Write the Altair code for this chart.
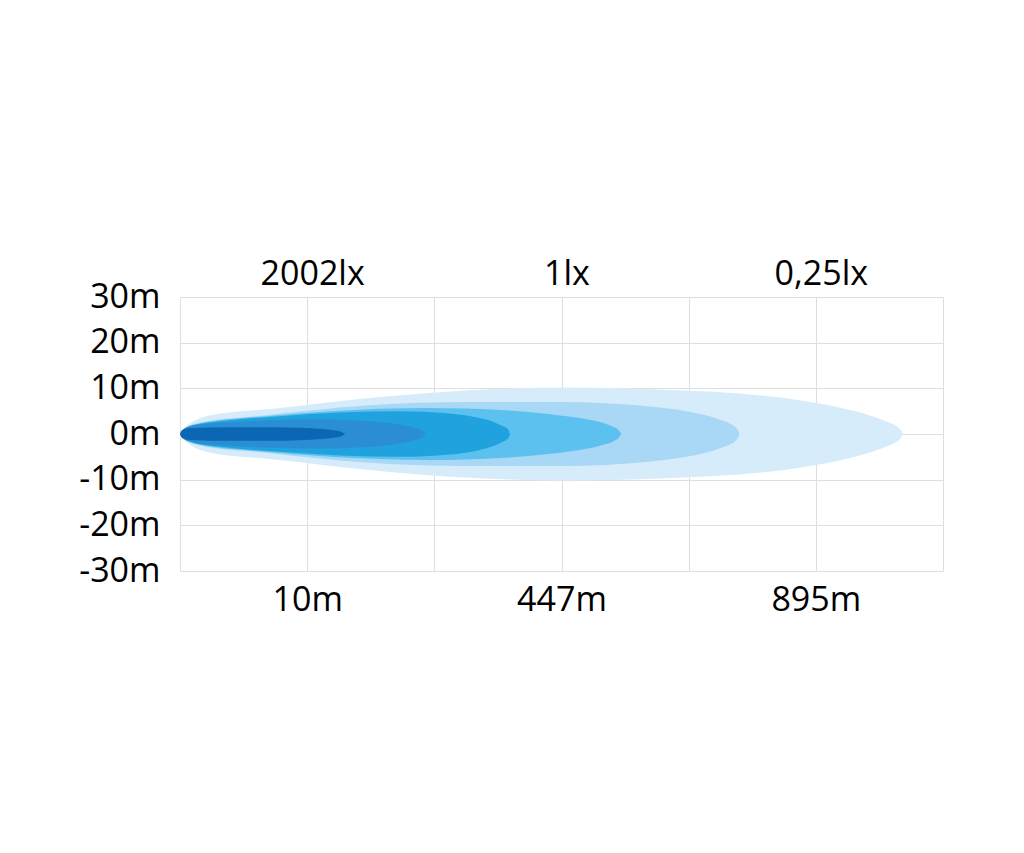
import altair as alt
import pandas as pd

# Beam contours: distance along x (in grid steps) and half-width (m)
b1_x = [0, 0.024, 0.079, 0.22, 0.75, 1.53, 2.28, 3.03, 3.81, 4.62, 5.15, 5.42, 5.55, 5.64, 5.67, 5.685]
b1_h = [0, 1.0, 2.3, 4.0, 5.6, 8.0, 9.6, 10.2, 9.7, 8.3, 6.0, 4.1, 2.8, 1.6, 0.8, 0]
b2_x = [0, 0.031, 0.157, 0.63, 1.49, 2.28, 2.99, 3.70, 3.98, 4.12, 4.26, 4.33, 4.37, 4.39, 4.40]
b2_h = [0, 1.2, 2.5, 4.0, 6.3, 7.0, 7.0, 6.0, 5.0, 4.2, 3.0, 2.2, 1.4, 0.7, 0]
b3_x = [0, 0.031, 0.157, 0.63, 1.18, 1.95, 2.56, 2.86, 3.09, 3.24, 3.35, 3.42, 3.45, 3.47]
b3_h = [0, 1.1, 2.3, 3.8, 5.0, 5.7, 5.2, 4.5, 3.7, 3.0, 2.2, 1.4, 0.8, 0]
b4_x = [0, 0.031, 0.118, 0.315, 0.786, 1.26, 1.73, 2.12, 2.34, 2.47, 2.53, 2.58, 2.595]
b4_h = [0, 1.0, 2.0, 2.8, 3.9, 4.7, 5.0, 4.5, 3.6, 2.6, 1.8, 1.0, 0]
b5_x = [0, 0.024, 0.118, 0.393, 0.944, 1.10, 1.43, 1.68, 1.80, 1.87, 1.91, 1.93]
b5_h = [0, 1.0, 1.9, 2.6, 3.15, 3.2, 2.9, 2.3, 1.7, 1.2, 0.65, 0]
b6_x = [0, 0.016, 0.079, 0.393, 0.71, 0.94, 1.12, 1.21, 1.267, 1.30]
b6_h = [0, 0.8, 1.3, 1.5, 1.5, 1.37, 1.07, 0.8, 0.47, 0]

bands_x = [b1_x, b2_x, b3_x, b4_x, b5_x, b6_x]
bands_h = [b1_h, b2_h, b3_h, b4_h, b5_h, b6_h]
band_colors = ["#d6ecfa", "#a8d8f5", "#5dc1f0", "#20a2df", "#2b8ed5", "#0b67b3"]

label_pos = [1, 3, 5]
dist_labels = ["10m", "447m", "895m"]
lux_labels = ["2002lx", "1lx", "0,25lx"]
grid_x = [0, 1, 2, 3, 4, 5, 6]
y_ticks = [-30, -20, -10, 0, 10, 20, 30]

rows = []
for i, (xs, hs) in enumerate(zip(bands_x, bands_h)):
    for x, h in zip(xs, hs):
        rows.append({"band": f"b{i+1}", "u": x, "half": h})
df = pd.DataFrame(rows)
labels_df = pd.DataFrame({"pos": label_pos, "lux": lux_labels, "dist": dist_labels})


def make_expr(pos, labels):
    return " : ".join(f"datum.value == {p} ? '{l}'" for p, l in zip(pos, labels)) + " : ''"


FONT = "Open Sans"
xscale = alt.Scale(domain=[0, 6], nice=False, zero=False)
yscale = alt.Scale(domain=[-30, 30], nice=False)

x_bottom = alt.Axis(values=grid_x, labelExpr=make_expr(label_pos, dist_labels), title=None,
                    orient="bottom", grid=True, ticks=False, domain=False, labelPadding=12)
x_top = alt.Axis(values=label_pos, labelExpr=make_expr(label_pos, lux_labels), title=None,
                 orient="top", grid=False, ticks=False, domain=False, labelPadding=6,
                 labelOffset=5)
y_axis = alt.Axis(values=y_ticks, labelExpr="datum.value + 'm'", title=None, grid=True,
                  ticks=False, domain=False, labelPadding=20)

layers = []
for i, c in enumerate(band_colors):
    name = f"b{i+1}"
    layer = alt.Chart(df).transform_filter(alt.datum.band == name).transform_calculate(
        neg="-datum.half"
    ).mark_area(color=c, interpolate="monotone").encode(
        x=alt.X("u:Q", scale=xscale, axis=x_bottom if i == 0 else None),
        y=alt.Y("half:Q", scale=yscale, axis=y_axis, stack=None),
        y2="neg:Q",
    )
    layers.append(layer)

top_layer = alt.Chart(labels_df).mark_point(opacity=0).encode(
    x=alt.X("pos:Q", scale=xscale, axis=x_top),
)
layers.append(top_layer)

chart = alt.layer(*layers).resolve_axis(x="independent").properties(
    width=763, height=274,
    padding={"left": 70, "top": 249, "right": 10, "bottom": 10},
).configure_view(stroke=None).configure_axis(
    labelFont=FONT, labelFontSize=34, labelColor="#000000", gridColor="#dedede", gridWidth=1,
)

chart.save("out.html", embed_options={"renderer": "svg", "actions": False})
